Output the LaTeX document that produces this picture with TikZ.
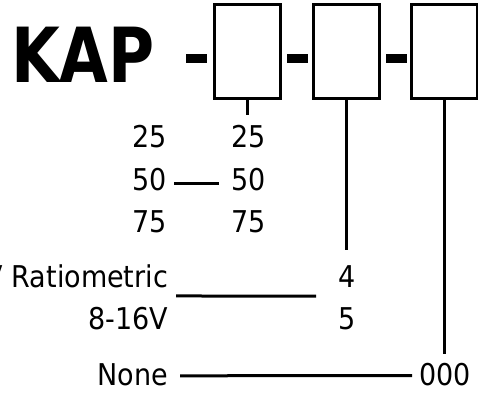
\documentclass[tikz,border=0pt]{standalone}
\usepackage{fontspec}
\setmainfont{DejaVu Sans Condensed}
\usetikzlibrary{calc}
\begin{document}
\begin{tikzpicture}[x=1pt,y=-1pt,
  lbl/.style={inner sep=0pt,outer sep=0pt,font=\fontsize{30}{30}\selectfont},
  lblr/.style={lbl,anchor=base east},
  lbll/.style={lbl,anchor=base west},
  slot/.style={draw,line width=3pt,minimum width=66.5pt,minimum height=94pt,inner sep=0pt,outer sep=0pt},
  dashbox/.style={fill=black,minimum width=21pt,minimum height=9pt,inner sep=0pt,outer sep=0pt},
  conn/.style={line width=3pt}]
\useasboundingbox (0,0) rectangle (478,392);
\clip (0,0) rectangle (478,392);
% title
\node[inner sep=0pt,anchor=base west,font=\fontsize{76}{76}\selectfont\bfseries,xscale=0.92] (kap) at (11,82) {KAP};
% slots
\node[slot] (b1) at (247.5,51.5) {};
\node[slot] (b2) at (346.5,51.5) {};
\node[slot] (b3) at (444.5,51.5) {};
% dashes
\node[dashbox] (d1) at (196,58) {};
\node[dashbox] (d2) at (297,58) {};
\node[dashbox] (d3) at (396,58) {};
% labels
\node[lblr] (a25) at (167,147) {25};
\node[lblr] (b25) at (266,147) {25};
\node[lblr] (a50) at (167,190) {50};
\node[lblr] (b50) at (266,190) {50};
\node[lblr] (a75) at (167,232) {75};
\node[lblr] (b75) at (266,232) {75};
\node[lblr] (ratio) at (168,287) {5V Ratiometric};
\node[lblr] (v816) at (168,329) {8-16V};
\node[lblr] (none) at (168,385) {None};
\node[lbll] (four) at (338,287) {4};
\node[lbll] (five) at (338,329) {5};
\node[lbll] (zero) at (419,385) {000};
% connectors
\coordinate (e1) at (247.5,115);
\coordinate (e2) at (346.5,250);
\coordinate (e3) at (444.5,354);
\draw[conn] (b1.south) -- (e1);
\draw[conn] (b2.south) -- (e2);
\draw[conn] (b3.south) -- (e3);
\draw[conn] ($(a50.east)+(7,4.5)$) -- ($(b50.west)+(-13,4.5)$);
\coordinate (rm) at ($(ratio.east)!0.5!(v816.east)$);
\coordinate (fm) at ($(four.west)!0.5!(five.west)$);
\draw[conn] ($(rm)+(8,-1)$) -- ($(fm)+(-22,-1)$);
\draw[conn] ($(none.east)+(12,1.5)$) -- ($(zero.west)+(-7,1.5)$);
\end{tikzpicture}
\end{document}
